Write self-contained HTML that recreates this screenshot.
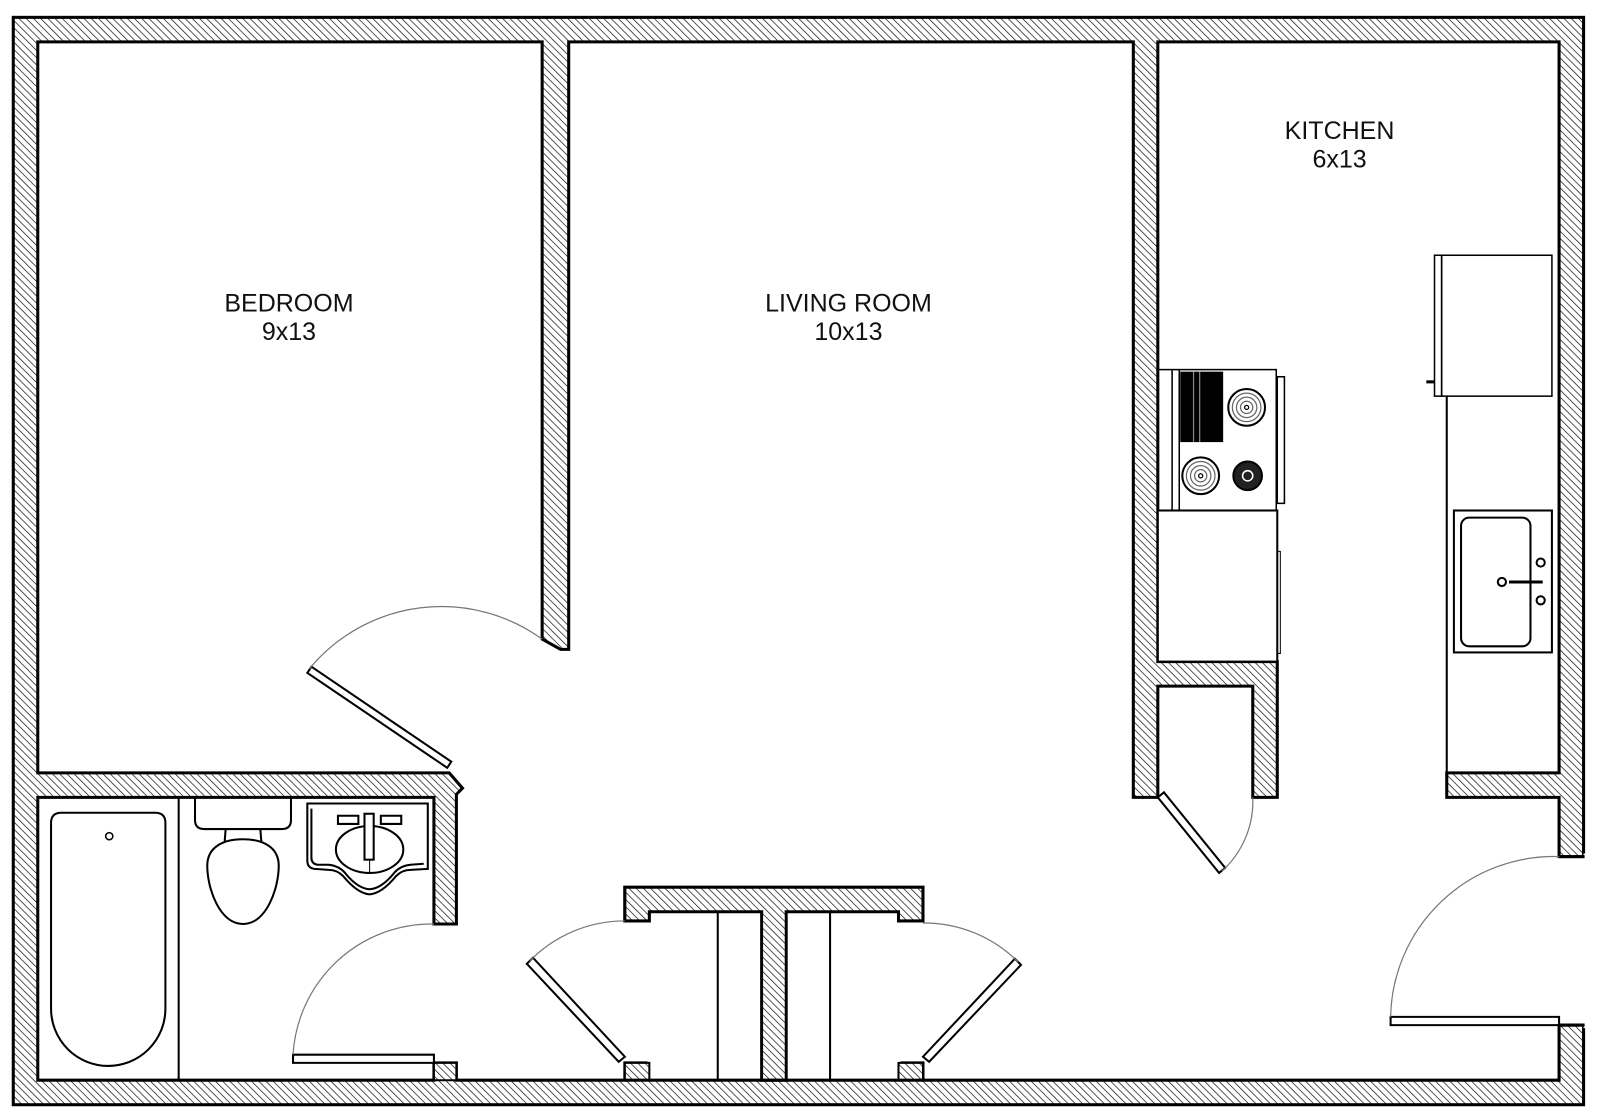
<!DOCTYPE html>
<html><head><meta charset="utf-8"><style>
html,body{margin:0;padding:0;background:#fff;}
svg{display:block;}
text{font-family:"Liberation Sans",Arial,sans-serif;font-size:24.5px;fill:#111;text-anchor:middle;}
</style></head><body>
<svg width="1600" height="1117" viewBox="0 0 1600 1117" xmlns="http://www.w3.org/2000/svg">
<defs>
<pattern id="h" width="5" height="5" patternUnits="userSpaceOnUse" patternTransform="rotate(-45)">
<rect width="5" height="5" fill="#fff"/>
<line x1="0" y1="0" x2="0" y2="5" stroke="#111" stroke-width="1.4"/>
</pattern>
</defs>
<rect width="1600" height="1117" fill="#fff"/>
<g transform="scale(1.021)">
<rect x="13" y="17" width="1538" height="1065" fill="url(#h)" stroke="#000" stroke-width="3"/>
<path d="M37,41 L531,41 L531,626 L549,636 L557,636 L557,41 L1110,41 L1110,781 L1134,781 L1134,672 L1227,672 L1227,781 L1251,781 L1251,648 L1134,648 L1134,41 L1527,41 L1527,757 L1417,757 L1417,781 L1527,781 L1527,839 L1556,839 L1556,1004 L1527,1004 L1527,1058 L904,1058 L904,1041 L880,1041 L880,902 L904,902 L904,869 L612,869 L612,902 L636,902 L636,1041 L612,1041 L612,1058 L447,1058 L447,1041 L425,1041 L425,1058 L37,1058 L37,781 L425,781 L425,905 L447,905 L447,778 L453,772 L440,757 L37,757 Z" fill="#fff" stroke="#000" stroke-width="3" stroke-linejoin="miter"/>
<rect x="634" y="893" width="114" height="165" fill="#fff"/>
<rect x="768" y="893" width="114" height="165" fill="#fff"/>
<!-- closet T hatched -->
<path d="M612,869 L904,869 L904,902 L880,902 L880,893 L770,893 L770,1058 L746,1058 L746,893 L636,893 L636,902 L612,902 Z" fill="url(#h)" stroke="#000" stroke-width="3"/>
<rect x="747.5" y="894.5" width="21" height="162" fill="url(#h)"/>
<path d="M612,1041 L636,1041 L636,1058 L612,1058 Z M880,1041 L904,1041 L904,1058 L880,1058 Z M425,1041 L447,1041 L447,1058 L425,1058 Z" fill="url(#h)" stroke="#000" stroke-width="2"/>
<line x1="612" y1="1058" x2="904" y2="1058" stroke="#000" stroke-width="3"/>
<rect x="1551" y="836" width="10" height="171" fill="#fff"/>
<line x1="1527" y1="839" x2="1552" y2="839" stroke="#000" stroke-width="3"/>
<line x1="1527" y1="1004" x2="1552" y2="1004" stroke="#000" stroke-width="3"/>
<!-- closet rods -->
<line x1="703" y1="893" x2="703" y2="1058" stroke="#000" stroke-width="2"/>
<line x1="813" y1="893" x2="813" y2="1058" stroke="#000" stroke-width="2"/>
<!-- doors -->
<g fill="#fff" stroke="#000" stroke-width="2">
<polygon points="438,752 442,746 305,653 301,659"/>
<polygon points="287,1033 425,1033 425,1041 287,1041"/>
<polygon points="612,1035 606,1040 516,944 522,938"/>
<polygon points="904,1035 910,1040 1000,945 994,939"/>
<polygon points="1134,781 1140,776 1200,850 1194,855"/>
<polygon points="1362,996 1527,996 1527,1004 1362,1004"/>
</g>
<g fill="none" stroke="#777" stroke-width="1.2">
<path d="M303,655 A168,168 0 0 1 531,626"/>
<path d="M287,1033 A136,136 0 0 1 425,905"/>
<path d="M519,941 A130,130 0 0 1 612,902"/>
<path d="M997,942 A130,130 0 0 0 904,904"/>
<path d="M1197,853 A92,92 0 0 0 1227,781"/>
<path d="M1362,996 A160,160 0 0 1 1527,839"/>
</g>
<!-- bathroom fixtures -->
<g fill="none" stroke="#000" stroke-width="2">
<line x1="175" y1="781" x2="175" y2="1058"/>
<path d="M60,796 L152,796 Q162,796 162,806 L162,988 A56,56 0 0 1 50,988 L50,806 Q50,796 60,796 Z"/>
<circle cx="107" cy="819" r="3.5" stroke-width="1.5"/>
<path d="M191,781 L191,803 Q191,812 200,812 L276,812 Q285,812 285,803 L285,781"/>
<path d="M221,812 L220,825 M255,812 L256,825"/>
<path d="M238,905 C215,905 203,870 203,848 C203,830 218,822 238,822 C258,822 273,830 273,848 C273,870 261,905 238,905 Z"/>
<path d="M301,787 L301,843 Q301,850 308,851 L322,852 Q330,852 336,858 Q350,875 362,876 Q374,875 388,858 Q394,852 402,852 L419,851 L419,787 Z"/>
<path d="M305,792 L305,840 Q305,846 311,847 L322,847 Q332,848 338,855 Q350,870 362,871 Q374,870 386,855 Q392,848 402,847 L415,846"/>
<ellipse cx="362" cy="832" rx="33" ry="23"/>
<rect x="357" y="797" width="9" height="45" fill="#fff"/>
<line x1="362" y1="842" x2="362" y2="855" stroke-width="1"/>
<path d="M331,799 L351,799 L351,807 L331,807 Z M373,799 L393,799 L393,807 L373,807 Z" fill="#fff"/>
</g>
<!-- kitchen -->
<g fill="none" stroke="#000" stroke-width="2">
<rect x="1134" y="500" width="117" height="148" fill="#fff"/>
<path d="M1251,540 L1254,540 L1254,640 L1251,640" stroke-width="1"/>
<rect x="1134" y="362" width="116" height="138" stroke-width="1.5"/>
<line x1="1148" y1="362" x2="1148" y2="500" stroke-width="1.5"/>
<line x1="1155" y1="362" x2="1155" y2="500" stroke-width="1.5"/>
<rect x="1251" y="369" width="7" height="124" stroke-width="1.5"/>
<rect x="1156" y="364" width="42" height="69" fill="#000" stroke="none"/>
<line x1="1169" y1="364" x2="1169" y2="433" stroke="#888" stroke-width="1.2"/>
<line x1="1175" y1="364" x2="1175" y2="433" stroke="#888" stroke-width="1.2"/>
<circle cx="1221" cy="399" r="18" fill="#fff"/>
<circle cx="1221" cy="399" r="14" stroke="#666" stroke-width="1.2"/>
<circle cx="1221" cy="399" r="10" stroke="#666" stroke-width="1.2"/>
<circle cx="1221" cy="399" r="6" stroke="#666" stroke-width="1.2"/>
<circle cx="1221" cy="399" r="2" stroke-width="1.2"/>
<circle cx="1176" cy="466" r="18" fill="#fff"/>
<circle cx="1176" cy="466" r="14" stroke="#666" stroke-width="1.2"/>
<circle cx="1176" cy="466" r="10" stroke="#666" stroke-width="1.2"/>
<circle cx="1176" cy="466" r="6" stroke="#666" stroke-width="1.2"/>
<circle cx="1176" cy="466" r="2" stroke-width="1.2"/>
<circle cx="1222" cy="466" r="14" fill="#222"/>
<circle cx="1222" cy="466" r="5" stroke="#fff" stroke-width="1.5"/>
<line x1="1417" y1="388" x2="1417" y2="757"/>
<rect x="1405" y="250" width="7" height="138" stroke-width="1.5"/>
<rect x="1412" y="250" width="108" height="138" stroke-width="1.5"/>
<line x1="1397" y1="374" x2="1405" y2="374" stroke-width="3"/>
<rect x="1424" y="500" width="96" height="139"/>
<rect x="1431" y="507" width="68" height="126" rx="8"/>
<circle cx="1509" cy="551" r="4"/>
<circle cx="1509" cy="588" r="4"/>
<circle cx="1471" cy="570" r="4"/>
<line x1="1478" y1="570" x2="1511" y2="570" stroke-width="3"/>
</g>
<text x="283" y="305">BEDROOM</text>
<text x="283" y="333">9x13</text>
<text x="831" y="305">LIVING ROOM</text>
<text x="831" y="333">10x13</text>
<text x="1312" y="136">KITCHEN</text>
<text x="1312" y="164">6x13</text>
</g>
</svg>
</body></html>
